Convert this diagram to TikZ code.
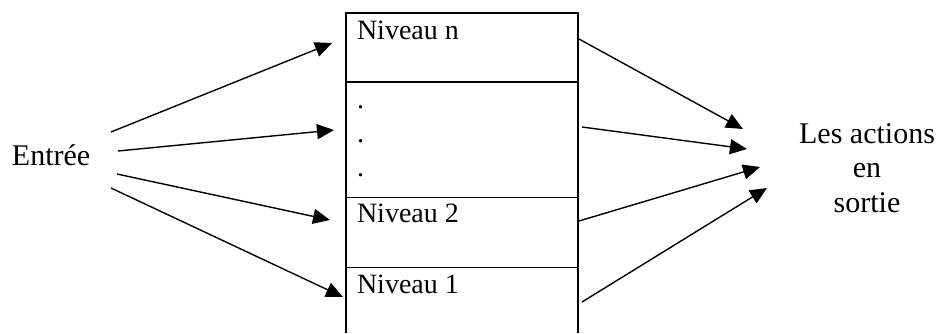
\documentclass[tikz,border=0pt]{standalone}
\usepackage{fontspec}
\setmainfont{Liberation Serif}
\usetikzlibrary{arrows.meta}
\begin{document}
\begin{tikzpicture}[x=1pt,y=-1pt,
  lbl/.style={inner sep=0pt,outer sep=0pt,font=\fontsize{30}{34.5}\selectfont},
  lvl/.style={inner sep=0pt,outer sep=0pt,anchor=base west,font=\fontsize{28}{32}\selectfont},
  thick border/.style={line width=2pt},
  thin border/.style={line width=1pt},
  conn/.style={line width=1.4pt,-{Triangle[length=17pt,width=15pt]}}]
\useasboundingbox (0,0) rectangle (938,333);
% box
\draw[thick border] (346,333) -- (346,13) -- (578,13) -- (578,333);
\draw[thick border] (346,82) -- (578,82);
\draw[thin border] (346,197) -- (578,197);
\draw[thin border] (346,267) -- (578,267);
% texts
\node[lvl] (ln) at (357,39) {Niveau n};
\node[lvl] (d1) at (357,108) {.};
\node[lvl] (d2) at (357,142) {.};
\node[lvl] (d3) at (357,176) {.};
\node[lvl] (l2) at (357,222) {Niveau 2};
\node[lvl] (l1) at (357,293) {Niveau 1};
\node[lbl,anchor=base west] (in) at (12,165) {Entrée};
\node[lbl,anchor=base,align=center] (out) at (867,212) {Les actions\\en\\sortie};
% arrow end points
\coordinate (s1) at (111,132); \coordinate (t1) at (332,43);
\coordinate (s2) at (118,151); \coordinate (t2) at (334,130);
\coordinate (s3) at (117,174); \coordinate (t3) at (330,220);
\coordinate (s4) at (111,188); \coordinate (t4) at (343,297);
\coordinate (r1) at (579,39);  \coordinate (u1) at (743,129);
\coordinate (r2) at (582,127); \coordinate (u2) at (747,149);
\coordinate (r3) at (579,221); \coordinate (u3) at (760,167);
\coordinate (r4) at (582,302); \coordinate (u4) at (767,188);
\draw[conn] (s1) -- (t1);
\draw[conn] (s2) -- (t2);
\draw[conn] (s3) -- (t3);
\draw[conn] (s4) -- (t4);
\draw[conn] (r1) -- (u1);
\draw[conn] (r2) -- (u2);
\draw[conn] (r3) -- (u3);
\draw[conn] (r4) -- (u4);
\end{tikzpicture}
\end{document}
